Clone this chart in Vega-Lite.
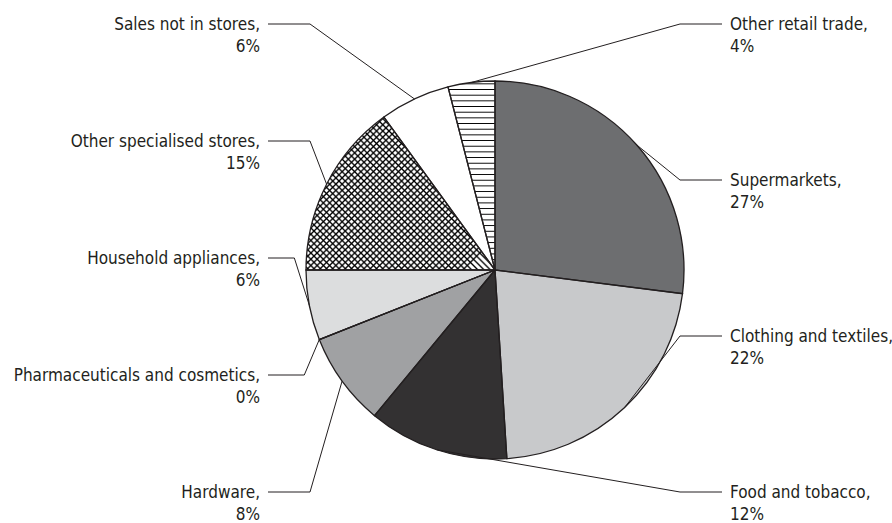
{
  "$schema": "https://vega.github.io/schema/vega-lite/v6.json",
  "autosize": {"type": "none"},
  "padding": {"left": 105, "top": 17, "right": 7, "bottom": 0},
  "width": 780,
  "height": 506,
  "background": "white",
  "config": {"view": {"stroke": null}},
  "data": {
    "values": [
      {"category": "Supermarkets", "value": 27, "order": 1},
      {"category": "Clothing and textiles", "value": 22, "order": 2},
      {"category": "Food and tobacco", "value": 12, "order": 3},
      {"category": "Hardware", "value": 8, "order": 4},
      {"category": "Pharmaceuticals and cosmetics", "value": 0, "order": 5},
      {"category": "Household appliances", "value": 6, "order": 6},
      {"category": "Other specialised stores", "value": 15, "order": 7},
      {"category": "Sales not in stores", "value": 6, "order": 8},
      {"category": "Other retail trade", "value": 4, "order": 9}
    ]
  },
  "transform": [
    {"joinaggregate": [{"op": "sum", "field": "value", "as": "total"}]},
    {"window": [{"op": "sum", "field": "value", "as": "cumEnd"}], "sort": [{"field": "order"}], "frame": [null, 0]},
    {"calculate": "((datum.cumEnd - datum.value / 2) / datum.total) * 2 * PI", "as": "mid"},
    {"calculate": "189 * sin(datum.mid)", "as": "ex"},
    {"calculate": "189 * cos(datum.mid)", "as": "ey"},
    {"calculate": "((datum.mid * 180 / PI) + 15) % 360", "as": "s"},
    {"calculate": "datum.s < 215 ? 1 : -1", "as": "side"},
    {"window": [{"op": "row_number", "as": "rank"}], "groupby": ["side"], "sort": [{"field": "s"}]},
    {"joinaggregate": [{"op": "count", "as": "n"}], "groupby": ["side"]},
    {"calculate": "datum.side == 1 ? 246 - (datum.rank - 1) * 468 / (datum.n - 1) : -222 + (datum.rank - 1) * 468 / (datum.n - 1)", "as": "ly"},
    {"calculate": "datum.side * 227", "as": "hx"},
    {"calculate": "datum.side * max(185, datum.side * datum.ex + 15)", "as": "elbow"},
    {"calculate": "datum.side * 235", "as": "tx"},
    {"calculate": "datum.category + ',|' + datum.value + '%'", "as": "label"}
  ],
  "layer": [
    {
      "mark": {"type": "arc", "outerRadius": 189, "strokeWidth": 0},
      "encoding": {
        "theta": {"field": "value", "type": "quantitative", "stack": true},
        "order": {"field": "order", "type": "quantitative"},
        "fill": {
          "condition": [
            {"test": "datum.category === 'Other specialised stores'", "value": {"gradient": "linear", "x1": 0, "y1": 0, "x2": 1, "y2": 0.809, "stops": [
              {"offset":0.004,"color":"#fff"},{"offset":0.01,"color":"#000"},{"offset":0.016,"color":"#fff"},
              {"offset":0.024,"color":"#fff"},{"offset":0.03,"color":"#000"},{"offset":0.036,"color":"#fff"},
              {"offset":0.044,"color":"#fff"},{"offset":0.05,"color":"#000"},{"offset":0.056,"color":"#fff"},
              {"offset":0.064,"color":"#fff"},{"offset":0.07,"color":"#000"},{"offset":0.076,"color":"#fff"},
              {"offset":0.084,"color":"#fff"},{"offset":0.09,"color":"#000"},{"offset":0.096,"color":"#fff"},
              {"offset":0.104,"color":"#fff"},{"offset":0.11,"color":"#000"},{"offset":0.116,"color":"#fff"},
              {"offset":0.124,"color":"#fff"},{"offset":0.13,"color":"#000"},{"offset":0.136,"color":"#fff"},
              {"offset":0.144,"color":"#fff"},{"offset":0.15,"color":"#000"},{"offset":0.156,"color":"#fff"},
              {"offset":0.164,"color":"#fff"},{"offset":0.17,"color":"#000"},{"offset":0.176,"color":"#fff"},
              {"offset":0.184,"color":"#fff"},{"offset":0.19,"color":"#000"},{"offset":0.196,"color":"#fff"},
              {"offset":0.204,"color":"#fff"},{"offset":0.21,"color":"#000"},{"offset":0.216,"color":"#fff"},
              {"offset":0.224,"color":"#fff"},{"offset":0.23,"color":"#000"},{"offset":0.236,"color":"#fff"},
              {"offset":0.244,"color":"#fff"},{"offset":0.25,"color":"#000"},{"offset":0.256,"color":"#fff"},
              {"offset":0.264,"color":"#fff"},{"offset":0.27,"color":"#000"},{"offset":0.276,"color":"#fff"},
              {"offset":0.284,"color":"#fff"},{"offset":0.29,"color":"#000"},{"offset":0.296,"color":"#fff"},
              {"offset":0.304,"color":"#fff"},{"offset":0.31,"color":"#000"},{"offset":0.316,"color":"#fff"},
              {"offset":0.324,"color":"#fff"},{"offset":0.33,"color":"#000"},{"offset":0.336,"color":"#fff"},
              {"offset":0.344,"color":"#fff"},{"offset":0.35,"color":"#000"},{"offset":0.356,"color":"#fff"},
              {"offset":0.364,"color":"#fff"},{"offset":0.37,"color":"#000"},{"offset":0.376,"color":"#fff"},
              {"offset":0.384,"color":"#fff"},{"offset":0.39,"color":"#000"},{"offset":0.396,"color":"#fff"},
              {"offset":0.404,"color":"#fff"},{"offset":0.41,"color":"#000"},{"offset":0.416,"color":"#fff"},
              {"offset":0.424,"color":"#fff"},{"offset":0.43,"color":"#000"},{"offset":0.436,"color":"#fff"},
              {"offset":0.444,"color":"#fff"},{"offset":0.45,"color":"#000"},{"offset":0.456,"color":"#fff"},
              {"offset":0.464,"color":"#fff"},{"offset":0.47,"color":"#000"},{"offset":0.476,"color":"#fff"},
              {"offset":0.484,"color":"#fff"},{"offset":0.49,"color":"#000"},{"offset":0.496,"color":"#fff"},
              {"offset":0.504,"color":"#fff"},{"offset":0.51,"color":"#000"},{"offset":0.516,"color":"#fff"},
              {"offset":0.524,"color":"#fff"},{"offset":0.53,"color":"#000"},{"offset":0.536,"color":"#fff"},
              {"offset":0.544,"color":"#fff"},{"offset":0.55,"color":"#000"},{"offset":0.556,"color":"#fff"},
              {"offset":0.564,"color":"#fff"},{"offset":0.57,"color":"#000"},{"offset":0.576,"color":"#fff"},
              {"offset":0.584,"color":"#fff"},{"offset":0.59,"color":"#000"},{"offset":0.596,"color":"#fff"},
              {"offset":0.604,"color":"#fff"},{"offset":0.61,"color":"#000"},{"offset":0.616,"color":"#fff"},
              {"offset":0.624,"color":"#fff"},{"offset":0.63,"color":"#000"},{"offset":0.636,"color":"#fff"},
              {"offset":0.644,"color":"#fff"},{"offset":0.65,"color":"#000"},{"offset":0.656,"color":"#fff"},
              {"offset":0.664,"color":"#fff"},{"offset":0.67,"color":"#000"},{"offset":0.676,"color":"#fff"},
              {"offset":0.684,"color":"#fff"},{"offset":0.69,"color":"#000"},{"offset":0.696,"color":"#fff"},
              {"offset":0.704,"color":"#fff"},{"offset":0.71,"color":"#000"},{"offset":0.716,"color":"#fff"},
              {"offset":0.724,"color":"#fff"},{"offset":0.73,"color":"#000"},{"offset":0.736,"color":"#fff"},
              {"offset":0.744,"color":"#fff"},{"offset":0.75,"color":"#000"},{"offset":0.756,"color":"#fff"},
              {"offset":0.764,"color":"#fff"},{"offset":0.77,"color":"#000"},{"offset":0.776,"color":"#fff"},
              {"offset":0.784,"color":"#fff"},{"offset":0.79,"color":"#000"},{"offset":0.796,"color":"#fff"},
              {"offset":0.804,"color":"#fff"},{"offset":0.81,"color":"#000"},{"offset":0.816,"color":"#fff"},
              {"offset":0.824,"color":"#fff"},{"offset":0.83,"color":"#000"},{"offset":0.836,"color":"#fff"},
              {"offset":0.844,"color":"#fff"},{"offset":0.85,"color":"#000"},{"offset":0.856,"color":"#fff"},
              {"offset":0.864,"color":"#fff"},{"offset":0.87,"color":"#000"},{"offset":0.876,"color":"#fff"},
              {"offset":0.884,"color":"#fff"},{"offset":0.89,"color":"#000"},{"offset":0.896,"color":"#fff"},
              {"offset":0.904,"color":"#fff"},{"offset":0.91,"color":"#000"},{"offset":0.916,"color":"#fff"},
              {"offset":0.924,"color":"#fff"},{"offset":0.93,"color":"#000"},{"offset":0.936,"color":"#fff"},
              {"offset":0.944,"color":"#fff"},{"offset":0.95,"color":"#000"},{"offset":0.956,"color":"#fff"},
              {"offset":0.964,"color":"#fff"},{"offset":0.97,"color":"#000"},{"offset":0.976,"color":"#fff"},
              {"offset":0.984,"color":"#fff"},{"offset":0.99,"color":"#000"},{"offset":0.996,"color":"#fff"}
            ]}},
            {"test": "datum.category === 'Other retail trade'", "value": {"gradient": "linear", "x1": 0, "y1": 0, "x2": 0, "y2": 1, "stops": [
              {"offset":0.01,"color":"#fff"},{"offset":0.015,"color":"#000"},{"offset":0.02,"color":"#fff"},
              {"offset":0.04,"color":"#fff"},{"offset":0.045,"color":"#000"},{"offset":0.05,"color":"#fff"},
              {"offset":0.07,"color":"#fff"},{"offset":0.075,"color":"#000"},{"offset":0.08,"color":"#fff"},
              {"offset":0.1,"color":"#fff"},{"offset":0.105,"color":"#000"},{"offset":0.11,"color":"#fff"},
              {"offset":0.13,"color":"#fff"},{"offset":0.135,"color":"#000"},{"offset":0.14,"color":"#fff"},
              {"offset":0.16,"color":"#fff"},{"offset":0.165,"color":"#000"},{"offset":0.17,"color":"#fff"},
              {"offset":0.19,"color":"#fff"},{"offset":0.195,"color":"#000"},{"offset":0.2,"color":"#fff"},
              {"offset":0.22,"color":"#fff"},{"offset":0.225,"color":"#000"},{"offset":0.23,"color":"#fff"},
              {"offset":0.25,"color":"#fff"},{"offset":0.255,"color":"#000"},{"offset":0.26,"color":"#fff"},
              {"offset":0.28,"color":"#fff"},{"offset":0.285,"color":"#000"},{"offset":0.29,"color":"#fff"},
              {"offset":0.31,"color":"#fff"},{"offset":0.315,"color":"#000"},{"offset":0.32,"color":"#fff"},
              {"offset":0.34,"color":"#fff"},{"offset":0.345,"color":"#000"},{"offset":0.35,"color":"#fff"},
              {"offset":0.37,"color":"#fff"},{"offset":0.375,"color":"#000"},{"offset":0.38,"color":"#fff"},
              {"offset":0.4,"color":"#fff"},{"offset":0.405,"color":"#000"},{"offset":0.41,"color":"#fff"},
              {"offset":0.43,"color":"#fff"},{"offset":0.435,"color":"#000"},{"offset":0.44,"color":"#fff"},
              {"offset":0.46,"color":"#fff"},{"offset":0.465,"color":"#000"},{"offset":0.47,"color":"#fff"},
              {"offset":0.49,"color":"#fff"},{"offset":0.495,"color":"#000"},{"offset":0.5,"color":"#fff"},
              {"offset":0.52,"color":"#fff"},{"offset":0.525,"color":"#000"},{"offset":0.53,"color":"#fff"},
              {"offset":0.55,"color":"#fff"},{"offset":0.555,"color":"#000"},{"offset":0.56,"color":"#fff"},
              {"offset":0.58,"color":"#fff"},{"offset":0.585,"color":"#000"},{"offset":0.59,"color":"#fff"},
              {"offset":0.61,"color":"#fff"},{"offset":0.615,"color":"#000"},{"offset":0.62,"color":"#fff"},
              {"offset":0.64,"color":"#fff"},{"offset":0.645,"color":"#000"},{"offset":0.65,"color":"#fff"},
              {"offset":0.67,"color":"#fff"},{"offset":0.675,"color":"#000"},{"offset":0.68,"color":"#fff"},
              {"offset":0.7,"color":"#fff"},{"offset":0.705,"color":"#000"},{"offset":0.71,"color":"#fff"},
              {"offset":0.73,"color":"#fff"},{"offset":0.735,"color":"#000"},{"offset":0.74,"color":"#fff"},
              {"offset":0.76,"color":"#fff"},{"offset":0.765,"color":"#000"},{"offset":0.77,"color":"#fff"},
              {"offset":0.79,"color":"#fff"},{"offset":0.795,"color":"#000"},{"offset":0.8,"color":"#fff"},
              {"offset":0.82,"color":"#fff"},{"offset":0.825,"color":"#000"},{"offset":0.83,"color":"#fff"},
              {"offset":0.85,"color":"#fff"},{"offset":0.855,"color":"#000"},{"offset":0.86,"color":"#fff"},
              {"offset":0.88,"color":"#fff"},{"offset":0.885,"color":"#000"},{"offset":0.89,"color":"#fff"},
              {"offset":0.91,"color":"#fff"},{"offset":0.915,"color":"#000"},{"offset":0.92,"color":"#fff"},
              {"offset":0.94,"color":"#fff"},{"offset":0.945,"color":"#000"},{"offset":0.95,"color":"#fff"},
              {"offset":0.97,"color":"#fff"},{"offset":0.975,"color":"#000"},{"offset":0.98,"color":"#fff"}
            ]}}
          ],
          "field": "category",
          "type": "nominal",
          "scale": {
            "domain": ["Supermarkets", "Clothing and textiles", "Food and tobacco", "Hardware", "Pharmaceuticals and cosmetics", "Household appliances", "Other specialised stores", "Sales not in stores", "Other retail trade"],
            "range": ["#6d6e70", "#c8c9cb", "#333132", "#a0a1a3", "#a0a1a3", "#dcddde", "#ffffff", "#ffffff", "#ffffff"]
          },
          "legend": null
        }
      }
    },
    {
      "mark": {"type": "arc", "outerRadius": 189, "strokeWidth": 0},
      "encoding": {
        "theta": {"field": "value", "type": "quantitative", "stack": true},
        "order": {"field": "order", "type": "quantitative"},
        "fill": {
          "condition": {"test": "datum.category === 'Other specialised stores'", "value": {"gradient": "linear", "x1": 0, "y1": 1, "x2": 1, "y2": 0.191, "stops": [
              {"offset":0.004,"color":"transparent"},{"offset":0.01,"color":"#000"},{"offset":0.016,"color":"transparent"},
              {"offset":0.024,"color":"transparent"},{"offset":0.03,"color":"#000"},{"offset":0.036,"color":"transparent"},
              {"offset":0.044,"color":"transparent"},{"offset":0.05,"color":"#000"},{"offset":0.056,"color":"transparent"},
              {"offset":0.064,"color":"transparent"},{"offset":0.07,"color":"#000"},{"offset":0.076,"color":"transparent"},
              {"offset":0.084,"color":"transparent"},{"offset":0.09,"color":"#000"},{"offset":0.096,"color":"transparent"},
              {"offset":0.104,"color":"transparent"},{"offset":0.11,"color":"#000"},{"offset":0.116,"color":"transparent"},
              {"offset":0.124,"color":"transparent"},{"offset":0.13,"color":"#000"},{"offset":0.136,"color":"transparent"},
              {"offset":0.144,"color":"transparent"},{"offset":0.15,"color":"#000"},{"offset":0.156,"color":"transparent"},
              {"offset":0.164,"color":"transparent"},{"offset":0.17,"color":"#000"},{"offset":0.176,"color":"transparent"},
              {"offset":0.184,"color":"transparent"},{"offset":0.19,"color":"#000"},{"offset":0.196,"color":"transparent"},
              {"offset":0.204,"color":"transparent"},{"offset":0.21,"color":"#000"},{"offset":0.216,"color":"transparent"},
              {"offset":0.224,"color":"transparent"},{"offset":0.23,"color":"#000"},{"offset":0.236,"color":"transparent"},
              {"offset":0.244,"color":"transparent"},{"offset":0.25,"color":"#000"},{"offset":0.256,"color":"transparent"},
              {"offset":0.264,"color":"transparent"},{"offset":0.27,"color":"#000"},{"offset":0.276,"color":"transparent"},
              {"offset":0.284,"color":"transparent"},{"offset":0.29,"color":"#000"},{"offset":0.296,"color":"transparent"},
              {"offset":0.304,"color":"transparent"},{"offset":0.31,"color":"#000"},{"offset":0.316,"color":"transparent"},
              {"offset":0.324,"color":"transparent"},{"offset":0.33,"color":"#000"},{"offset":0.336,"color":"transparent"},
              {"offset":0.344,"color":"transparent"},{"offset":0.35,"color":"#000"},{"offset":0.356,"color":"transparent"},
              {"offset":0.364,"color":"transparent"},{"offset":0.37,"color":"#000"},{"offset":0.376,"color":"transparent"},
              {"offset":0.384,"color":"transparent"},{"offset":0.39,"color":"#000"},{"offset":0.396,"color":"transparent"},
              {"offset":0.404,"color":"transparent"},{"offset":0.41,"color":"#000"},{"offset":0.416,"color":"transparent"},
              {"offset":0.424,"color":"transparent"},{"offset":0.43,"color":"#000"},{"offset":0.436,"color":"transparent"},
              {"offset":0.444,"color":"transparent"},{"offset":0.45,"color":"#000"},{"offset":0.456,"color":"transparent"},
              {"offset":0.464,"color":"transparent"},{"offset":0.47,"color":"#000"},{"offset":0.476,"color":"transparent"},
              {"offset":0.484,"color":"transparent"},{"offset":0.49,"color":"#000"},{"offset":0.496,"color":"transparent"},
              {"offset":0.504,"color":"transparent"},{"offset":0.51,"color":"#000"},{"offset":0.516,"color":"transparent"},
              {"offset":0.524,"color":"transparent"},{"offset":0.53,"color":"#000"},{"offset":0.536,"color":"transparent"},
              {"offset":0.544,"color":"transparent"},{"offset":0.55,"color":"#000"},{"offset":0.556,"color":"transparent"},
              {"offset":0.564,"color":"transparent"},{"offset":0.57,"color":"#000"},{"offset":0.576,"color":"transparent"},
              {"offset":0.584,"color":"transparent"},{"offset":0.59,"color":"#000"},{"offset":0.596,"color":"transparent"},
              {"offset":0.604,"color":"transparent"},{"offset":0.61,"color":"#000"},{"offset":0.616,"color":"transparent"},
              {"offset":0.624,"color":"transparent"},{"offset":0.63,"color":"#000"},{"offset":0.636,"color":"transparent"},
              {"offset":0.644,"color":"transparent"},{"offset":0.65,"color":"#000"},{"offset":0.656,"color":"transparent"},
              {"offset":0.664,"color":"transparent"},{"offset":0.67,"color":"#000"},{"offset":0.676,"color":"transparent"},
              {"offset":0.684,"color":"transparent"},{"offset":0.69,"color":"#000"},{"offset":0.696,"color":"transparent"},
              {"offset":0.704,"color":"transparent"},{"offset":0.71,"color":"#000"},{"offset":0.716,"color":"transparent"},
              {"offset":0.724,"color":"transparent"},{"offset":0.73,"color":"#000"},{"offset":0.736,"color":"transparent"},
              {"offset":0.744,"color":"transparent"},{"offset":0.75,"color":"#000"},{"offset":0.756,"color":"transparent"},
              {"offset":0.764,"color":"transparent"},{"offset":0.77,"color":"#000"},{"offset":0.776,"color":"transparent"},
              {"offset":0.784,"color":"transparent"},{"offset":0.79,"color":"#000"},{"offset":0.796,"color":"transparent"},
              {"offset":0.804,"color":"transparent"},{"offset":0.81,"color":"#000"},{"offset":0.816,"color":"transparent"},
              {"offset":0.824,"color":"transparent"},{"offset":0.83,"color":"#000"},{"offset":0.836,"color":"transparent"},
              {"offset":0.844,"color":"transparent"},{"offset":0.85,"color":"#000"},{"offset":0.856,"color":"transparent"},
              {"offset":0.864,"color":"transparent"},{"offset":0.87,"color":"#000"},{"offset":0.876,"color":"transparent"},
              {"offset":0.884,"color":"transparent"},{"offset":0.89,"color":"#000"},{"offset":0.896,"color":"transparent"},
              {"offset":0.904,"color":"transparent"},{"offset":0.91,"color":"#000"},{"offset":0.916,"color":"transparent"},
              {"offset":0.924,"color":"transparent"},{"offset":0.93,"color":"#000"},{"offset":0.936,"color":"transparent"},
              {"offset":0.944,"color":"transparent"},{"offset":0.95,"color":"#000"},{"offset":0.956,"color":"transparent"},
              {"offset":0.964,"color":"transparent"},{"offset":0.97,"color":"#000"},{"offset":0.976,"color":"transparent"},
              {"offset":0.984,"color":"transparent"},{"offset":0.99,"color":"#000"},{"offset":0.996,"color":"transparent"}
          ]}},
          "value": "transparent"
        }
      }
    },
    {
      "mark": {"type": "arc", "outerRadius": 189, "filled": false, "stroke": "#231f20", "strokeWidth": 1.3},
      "encoding": {
        "theta": {"field": "value", "type": "quantitative", "stack": true},
        "order": {"field": "order", "type": "quantitative"}
      }
    },
    {
      "mark": {"type": "rule", "stroke": "#231f20", "strokeWidth": 1},
      "encoding": {
        "x": {"field": "hx", "type": "quantitative", "scale": {"domain": [-390, 390], "nice": false, "zero": false}, "axis": null},
        "x2": {"field": "elbow"},
        "y": {"field": "ly", "type": "quantitative", "scale": {"domain": [-253, 253], "nice": false, "zero": false}, "axis": null},
        "y2": {"field": "ly"}
      }
    },
    {
      "mark": {"type": "rule", "stroke": "#231f20", "strokeWidth": 1},
      "encoding": {
        "x": {"field": "elbow", "type": "quantitative", "scale": {"domain": [-390, 390], "nice": false, "zero": false}, "axis": null},
        "x2": {"field": "ex"},
        "y": {"field": "ly", "type": "quantitative", "scale": {"domain": [-253, 253], "nice": false, "zero": false}, "axis": null},
        "y2": {"field": "ey"}
      }
    },
    {
      "transform": [{"filter": "datum.side == 1"}],
      "mark": {"type": "text", "align": "left", "baseline": "top", "dy": -7, "lineBreak": "|", "lineHeight": 22, "font": "DejaVu Sans Condensed", "fontSize": 17, "color": "#231f20"},
      "encoding": {
        "x": {"field": "tx", "type": "quantitative", "scale": {"domain": [-390, 390], "nice": false, "zero": false}, "axis": null},
        "y": {"field": "ly", "type": "quantitative", "scale": {"domain": [-253, 253], "nice": false, "zero": false}, "axis": null},
        "text": {"field": "label", "type": "nominal"}
      }
    },
    {
      "transform": [{"filter": "datum.side == -1"}],
      "mark": {"type": "text", "align": "right", "baseline": "top", "dy": -7, "lineBreak": "|", "lineHeight": 22, "font": "DejaVu Sans Condensed", "fontSize": 17, "color": "#231f20"},
      "encoding": {
        "x": {"field": "tx", "type": "quantitative", "scale": {"domain": [-390, 390], "nice": false, "zero": false}, "axis": null},
        "y": {"field": "ly", "type": "quantitative", "scale": {"domain": [-253, 253], "nice": false, "zero": false}, "axis": null},
        "text": {"field": "label", "type": "nominal"}
      }
    }
  ]
}
